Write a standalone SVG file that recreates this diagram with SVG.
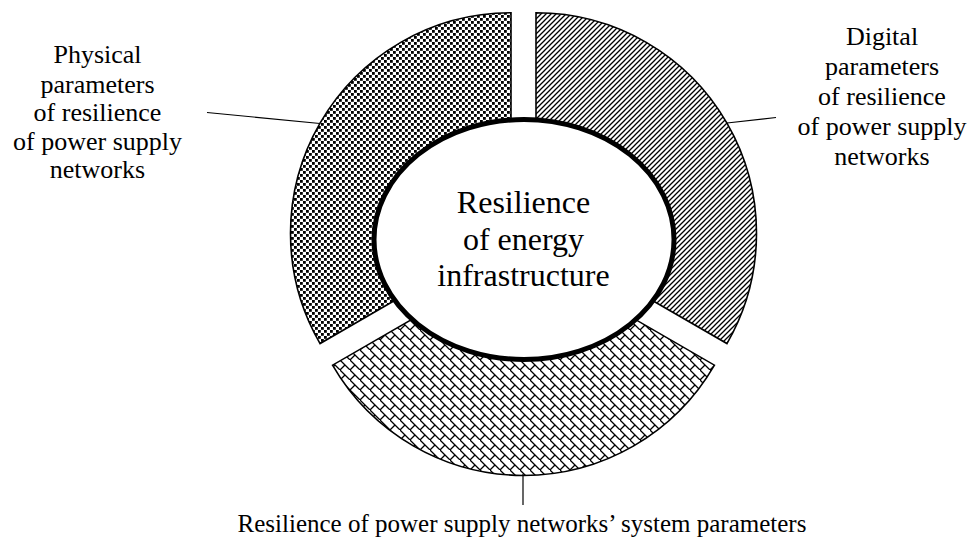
<svg xmlns="http://www.w3.org/2000/svg" width="971" height="547" viewBox="0 0 971 547">
  <defs>
    <pattern id="pDots" width="6" height="6" patternUnits="userSpaceOnUse">
      <rect width="6" height="6" fill="#fff"/>
      <rect x="0" y="0" width="2.8" height="2.8" fill="#000"/>
      <rect x="3" y="3" width="2.8" height="2.8" fill="#000"/>
    </pattern>
    <pattern id="pDiag" width="5" height="5" patternUnits="userSpaceOnUse">
      <rect width="5" height="5" fill="#fff"/>
      <path d="M-1,1 L1,-1 M0,5 L5,0 M4,6 L6,4" stroke="#000" stroke-width="1.3"/>
    </pattern>
    <pattern id="pBrick" width="10" height="10" patternUnits="userSpaceOnUse">
      <rect width="10" height="10" fill="#fff"/>
      <path d="M-1,-1 L11,11 M5,5 L0,10" stroke="#000" stroke-width="1.3" fill="none"/>
    </pattern>
  </defs>
  <style>
    .seg { stroke: #000; stroke-width: 1.6; stroke-linejoin: miter; }
    .lead { stroke: #000; stroke-width: 1.2; fill: none; }
    .lbl { font-family: "Liberation Serif", "Times New Roman", serif; font-size: 26px; fill: #000; text-anchor: middle; }
    .ctr { font-family: "Liberation Serif", "Times New Roman", serif; font-size: 32px; fill: #000; text-anchor: middle; }
  </style>

  <g id="seg-physical">
    <path class="seg" fill="url(#pDots)" d="M511,233.3 L320.04,343.55 A220.5,220.5 0 0 1 511,12.8 Z"/>
  </g>
  <g id="seg-digital">
    <path class="seg" fill="url(#pDiag)" d="M536,233.3 L536,12.8 A220.5,220.5 0 0 1 726.96,343.55 Z"/>
  </g>
  <g id="seg-system">
    <path class="seg" fill="url(#pBrick)" d="M523.5,254.93 L714.46,365.18 A220.5,220.5 0 0 1 332.54,365.18 Z"/>
  </g>

  <g id="center">
    <ellipse cx="524" cy="239.5" rx="150" ry="120" fill="#fff" stroke="#000" stroke-width="5"/>
    <text class="ctr" x="523.5" y="213">Resilience</text>
    <text class="ctr" x="523.5" y="249.5">of energy</text>
    <text class="ctr" x="523.5" y="286">infrastructure</text>
  </g>

  <g id="connectors">
    <line class="lead" x1="207" y1="112.5" x2="320" y2="123.5"/>
    <line class="lead" x1="727" y1="123" x2="776" y2="117.5"/>
    <line class="lead" x1="523" y1="474" x2="523" y2="505" stroke-width="1.6"/>
  </g>

  <g id="label-physical">
    <text class="lbl" x="97.5" y="63">Physical</text>
    <text class="lbl" x="97.5" y="92.5">parameters</text>
    <text class="lbl" x="97.5" y="121">of resilience</text>
    <text class="lbl" x="97.5" y="150">of power supply</text>
    <text class="lbl" x="97.5" y="178">networks</text>
  </g>
  <g id="label-digital">
    <text class="lbl" x="882" y="45">Digital</text>
    <text class="lbl" x="882" y="75">parameters</text>
    <text class="lbl" x="882" y="105">of resilience</text>
    <text class="lbl" x="882" y="135">of power supply</text>
    <text class="lbl" x="882" y="165">networks</text>
  </g>
  <g id="label-system">
    <text class="lbl" x="522" y="532" style="font-size:25px">Resilience of power supply networks’ system parameters</text>
  </g>
</svg>
